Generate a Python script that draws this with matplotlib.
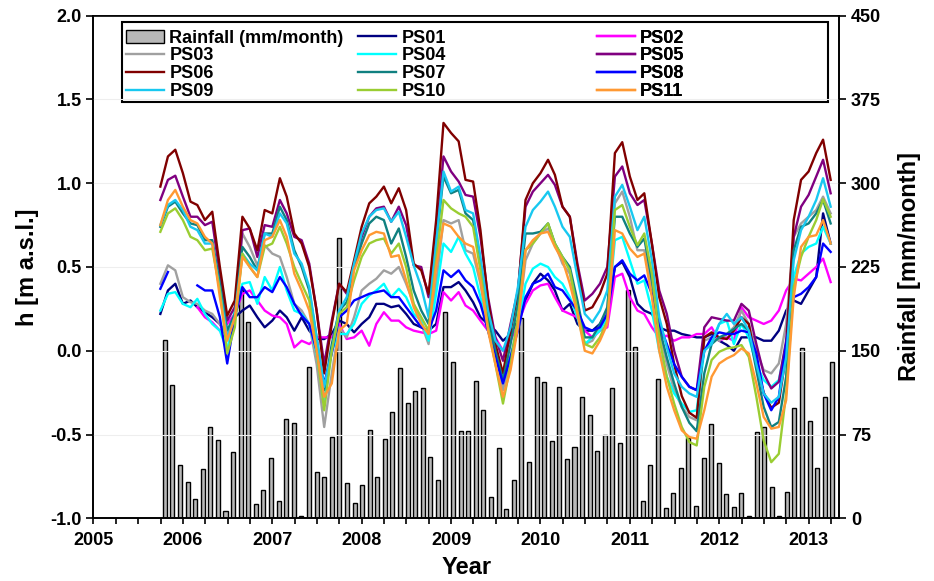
import numpy as np
import pandas as pd
import matplotlib
matplotlib.use("Agg")
import matplotlib.pyplot as plt
from matplotlib.ticker import MultipleLocator, FormatStrFormatter
from matplotlib.patches import Rectangle

plt.rcParams['font.family'] = ['Liberation Sans', 'DejaVu Sans']
plt.rcParams['font.weight'] = 'bold'
plt.rcParams['axes.labelweight'] = 'bold'

nan = np.nan

# monthly rainfall (mm/month), bars every 31 days starting mid-October 2005
rain_start = "2005-10-19"
rainfall = [160, 119, 47.7, 32.8, 17.6, 43.9, 82, 69.8, 6.8, 59, 204, 176, 12.8, 25, 53.7,
            15.8, 88.6, 85.6, 2, 135.7, 41.7, 37.3, 72.5, 251, 31.3, 14, 29.5, 78.8, 37.3,
            70.7, 94.9, 134.3, 103, 114, 116.4, 55.2, 34.3, 184.7, 139.7, 78.5, 78.5, 123,
            97, 18.8, 63.2, 8, 34.6, 179, 50.7, 126.2, 122.3, 69.5, 117.3, 53.4, 64.1, 108.6,
            92.5, 60.3, 74.3, 116.7, 67.7, 204.4, 153.6, 15.8, 47.7, 124.4, 9.5, 22.4, 44.8,
            72.2, 11.3, 53.7, 84.7, 49.8, 21.5, 10.4, 22.4, 2, 77.3, 81.7, 27.7, 1.8, 23.8,
            98.8, 152.2, 86.8, 44.8, 108.9, 139.7]

# water level series, sampled on the first of each month Oct 2005 - Apr 2013
level_start = "2005-10-01"
PS01 = [0.22, 0.36, 0.40, 0.28, 0.30, 0.26, 0.23, 0.20, 0.16, 0.08, 0.20, 0.24, 0.27, 0.20, 0.14, 0.18,
        0.24, 0.20, 0.12, 0.20, 0.12, 0.07, 0.07, 0.10, 0.18, 0.16, 0.11, 0.16, 0.20, 0.28, 0.28,
        0.26, 0.27, 0.22, 0.16, 0.14, 0.12, 0.16, 0.38, 0.38, 0.41, 0.36, 0.29, 0.20, 0.16, 0.12,
        0.06, 0.10, 0.18, 0.30, 0.40, 0.46, 0.42, 0.36, 0.24, 0.28, 0.16, 0.12, 0.12, 0.16, 0.24, 0.50,
        0.53, 0.44, 0.28, 0.24, 0.22, 0.14, 0.12, 0.12, 0.10, 0.09, 0.08, 0.08, 0.10, 0.06, 0.035,
        0.00, 0.08, 0.08, 0.08, 0.06, 0.06, 0.12, 0.24, 0.30, 0.28, 0.36, 0.44, 0.82, 0.64]
PS02 = [nan, nan, nan, nan, nan, 0.26, 0.20, 0.17, 0.12, 0.16, 0.22, 0.34, 0.36, 0.30, 0.24, 0.21,
        0.20, 0.16, 0.02, 0.06, 0.04, 0.08, 0.08, 0.08, 0.16, 0.07, 0.08, 0.12, 0.03, 0.16, 0.23,
        0.18, 0.18, 0.14, 0.12, 0.11, 0.10, 0.12, 0.35, 0.30, 0.35, 0.27, 0.24, 0.18, 0.12, 0.08,
        0.00, 0.06, 0.16, 0.28, 0.36, 0.39, 0.40, 0.32, 0.24, 0.22, 0.20, 0.12, 0.08, 0.12, 0.14, 0.44,
        0.46, 0.32, 0.24, 0.22, 0.14, 0.08, 0.09, 0.06, 0.08, 0.08, 0.10, 0.10, 0.14, 0.06, 0.08,
        0.06, 0.26, 0.20, 0.18, 0.16, 0.18, 0.24, 0.36, 0.43, 0.42, 0.46, 0.50, 0.55, 0.41]
PS03 = [0.40, 0.51, 0.48, 0.32, 0.29, 0.28, 0.24, 0.22, 0.16, 0.08, 0.20, 0.70, 0.62, 0.51, 0.63, 0.58,
        0.56, 0.44, 0.28, 0.24, 0.16, -0.08, -0.455, -0.135, 0.14, 0.08, 0.20, 0.36, 0.40, 0.43, 0.48,
        0.46, 0.50, 0.40, 0.28, 0.16, 0.04, 0.40, 0.78, 0.76, 0.78, 0.60, 0.58, 0.40, 0.14, 0.00,
        -0.235, -0.036, 0.16, 0.54, 0.64, 0.70, 0.73, 0.64, 0.52, 0.46, 0.24, 0.04, 0.06, 0.14, 0.24, 0.88,
        0.95, 0.80, 0.60, 0.60, 0.38, 0.12, -0.08, -0.235, -0.335, -0.395, -0.415, 0.06, 0.08, 0.06, 0.10,
        0.14, 0.24, 0.16, 0.00, -0.115, -0.135, -0.076, 0.16, 0.68, 0.76, 0.80, 0.84, 0.92, 0.82]
PS04 = [0.24, 0.34, 0.35, 0.28, 0.26, 0.31, 0.22, 0.16, 0.12, 0.00, 0.24, 0.40, 0.41, 0.28, 0.44, 0.36,
        0.50, 0.36, 0.24, 0.22, 0.16, -0.016, -0.295, 0.00, 0.10, 0.10, 0.16, 0.28, 0.33, 0.36, 0.40,
        0.32, 0.37, 0.32, 0.22, 0.18, 0.06, 0.34, 0.64, 0.59, 0.68, 0.58, 0.50, 0.32, 0.12, -0.016,
        -0.155, -0.036, 0.14, 0.40, 0.49, 0.52, 0.50, 0.44, 0.40, 0.32, 0.20, 0.04, 0.08, 0.12, 0.20, 0.66,
        0.68, 0.54, 0.40, 0.42, 0.24, 0.00, -0.155, -0.255, -0.315, -0.365, -0.355, 0.00, 0.06, 0.16, 0.18,
        0.04, 0.16, 0.08, -0.08, -0.175, -0.215, -0.175, 0.04, 0.44, 0.58, 0.62, 0.64, 0.74, 0.64]
PS05 = [0.90, 1.02, 1.045, 0.92, 0.80, 0.80, 0.75, 0.77, 0.46, 0.18, 0.26, 0.72, 0.73, 0.56, 0.75, 0.74,
        0.90, 0.82, 0.68, 0.66, 0.52, 0.24, -0.08, 0.18, 0.40, 0.34, 0.50, 0.68, 0.80, 0.85, 0.86,
        0.77, 0.86, 0.75, 0.51, 0.50, 0.32, 0.68, 1.16, 1.07, 1.01, 0.93, 0.92, 0.68, 0.32, 0.08,
        -0.06, 0.16, 0.36, 0.86, 0.95, 1.00, 1.05, 0.99, 0.86, 0.80, 0.52, 0.30, 0.34, 0.40, 0.50, 1.04,
        1.10, 0.94, 0.87, 0.90, 0.64, 0.36, 0.22, 0.00, -0.155, -0.215, -0.235, 0.14, 0.20, 0.19, 0.18,
        0.18, 0.28, 0.24, 0.04, -0.135, -0.225, -0.185, 0.06, 0.68, 0.86, 0.93, 1.04, 1.14, 0.94]
PS06 = [0.98, 1.16, 1.20, 1.06, 0.89, 0.87, 0.78, 0.83, 0.50, 0.21, 0.30, 0.80, 0.73, 0.60, 0.84, 0.82,
        1.03, 0.92, 0.70, 0.64, 0.50, 0.24, -0.135, 0.16, 0.40, 0.35, 0.54, 0.74, 0.88, 0.92, 0.98,
        0.88, 0.97, 0.84, 0.52, 0.48, 0.34, 0.78, 1.36, 1.30, 1.25, 1.02, 1.01, 0.72, 0.30, 0.04,
        -0.135, 0.12, 0.34, 0.90, 1.00, 1.06, 1.14, 1.05, 0.86, 0.80, 0.50, 0.24, 0.26, 0.34, 0.46, 1.18,
        1.245, 1.04, 0.90, 0.94, 0.64, 0.32, 0.16, -0.08, -0.27, -0.37, -0.40, 0.08, 0.11, 0.08, 0.07,
        0.12, 0.20, 0.16, -0.08, -0.25, -0.34, -0.31, -0.02, 0.78, 1.02, 1.07, 1.18, 1.26, 1.02]
PS07 = [0.74, 0.86, 0.89, 0.82, 0.76, 0.75, 0.66, 0.66, 0.40, 0.12, 0.22, 0.62, 0.56, 0.48, 0.70, 0.70,
        0.86, 0.78, 0.60, 0.50, 0.36, 0.08, -0.235, 0.04, 0.24, 0.29, 0.50, 0.64, 0.76, 0.80, 0.78,
        0.64, 0.73, 0.56, 0.36, 0.24, 0.16, 0.64, 1.04, 0.94, 0.96, 0.82, 0.78, 0.52, 0.20, 0.00,
        -0.175, 0.04, 0.28, 0.70, 0.70, 0.71, 0.76, 0.64, 0.56, 0.50, 0.30, 0.08, 0.08, 0.16, 0.26, 0.80,
        0.80, 0.70, 0.62, 0.67, 0.42, 0.14, -0.04, -0.195, -0.335, -0.43, -0.48, -0.135, 0.04, 0.08, 0.10,
        0.13, 0.16, 0.12, -0.115, -0.335, -0.455, -0.425, -0.155, 0.60, 0.74, 0.76, 0.82, 0.90, 0.76]
PS08 = [0.37, 0.47, nan, nan, nan, 0.39, 0.36, 0.36, 0.20, -0.076, 0.20, 0.38, 0.32, 0.32, 0.38, 0.35,
        0.44, 0.38, 0.28, 0.21, 0.16, 0.00, -0.195, -0.016, 0.20, 0.24, 0.30, 0.32, 0.34, 0.35, 0.36,
        0.32, 0.32, 0.26, 0.20, 0.14, 0.12, 0.24, 0.48, 0.44, 0.48, 0.42, 0.38, 0.28, 0.12, -0.036,
        -0.195, -0.036, 0.12, 0.32, 0.40, 0.42, 0.46, 0.38, 0.36, 0.30, 0.24, 0.14, 0.12, 0.14, 0.22, 0.50,
        0.54, 0.46, 0.42, 0.45, 0.34, 0.16, 0.04, -0.08, -0.155, -0.215, -0.235, 0.00, 0.08, 0.11, 0.10,
        0.10, 0.12, 0.11, -0.016, -0.255, -0.355, -0.275, 0.04, 0.32, 0.34, 0.38, 0.44, 0.64, 0.59]
PS09 = [0.75, 0.87, 0.90, 0.84, 0.74, 0.72, 0.64, 0.64, 0.36, 0.08, 0.20, 0.58, 0.52, 0.48, 0.70, 0.68,
        0.82, 0.76, 0.58, 0.52, 0.38, 0.08, -0.215, 0.00, 0.24, 0.32, 0.52, 0.70, 0.80, 0.84, 0.85,
        0.77, 0.83, 0.68, 0.51, 0.38, 0.20, 0.64, 1.07, 0.95, 0.98, 0.84, 0.82, 0.56, 0.24, 0.06,
        0.00, 0.14, 0.38, 0.74, 0.84, 0.89, 0.95, 0.86, 0.74, 0.68, 0.44, 0.22, 0.17, 0.24, 0.36, 0.92,
        0.99, 0.86, 0.72, 0.80, 0.54, 0.20, 0.02, -0.135, -0.215, -0.255, -0.275, 0.00, 0.04, 0.16, 0.22,
        0.16, 0.20, 0.12, -0.08, -0.255, -0.31, -0.275, -0.04, 0.54, 0.72, 0.80, 0.90, 1.03, 0.86]
PS10 = [0.71, 0.82, 0.85, 0.78, 0.68, 0.66, 0.60, 0.61, 0.36, -0.016, 0.14, 0.58, 0.50, 0.44, 0.62, 0.64,
        0.74, 0.64, 0.50, 0.40, 0.30, 0.00, -0.355, 0.00, 0.22, 0.26, 0.42, 0.56, 0.64, 0.66, 0.67,
        0.58, 0.64, 0.50, 0.28, 0.20, 0.12, 0.54, 0.90, 0.85, 0.82, 0.80, 0.74, 0.48, 0.14, -0.08,
        -0.315, -0.08, 0.20, 0.60, 0.64, 0.70, 0.76, 0.64, 0.56, 0.48, 0.24, 0.04, 0.02, 0.08, 0.18, 0.84,
        0.87, 0.74, 0.63, 0.70, 0.46, 0.08, -0.155, -0.315, -0.455, -0.545, -0.565, -0.215, -0.055, -0.006, 0.014,
        0.02, 0.034, -0.036, -0.275, -0.535, -0.665, -0.615, -0.255, 0.38, 0.56, 0.68, 0.78, 0.905, 0.80]
PS11 = [0.75, 0.90, 0.96, 0.86, 0.78, 0.76, 0.68, 0.64, 0.32, 0.06, 0.20, 0.56, 0.50, 0.44, 0.66, 0.68,
        0.78, 0.68, 0.46, 0.36, 0.24, 0.00, -0.275, -0.195, 0.12, 0.16, 0.48, 0.60, 0.69, 0.71, 0.70,
        0.56, 0.57, 0.42, 0.26, 0.16, 0.10, 0.50, 0.76, 0.74, 0.68, 0.64, 0.62, 0.42, 0.12, -0.08,
        -0.275, -0.115, 0.14, 0.60, 0.66, 0.70, 0.71, 0.62, 0.54, 0.40, 0.22, 0.00, -0.016, 0.06, 0.16, 0.72,
        0.70, 0.61, 0.56, 0.58, 0.32, 0.00, -0.215, -0.355, -0.475, -0.515, -0.525, -0.355, -0.155, -0.076, -0.046,
        -0.026, 0.014, -0.016, -0.195, -0.395, -0.465, -0.455, -0.295, 0.32, 0.62, 0.68, 0.69, 0.78, 0.64]

series = [("PS01", PS01, "#000080"), ("PS02", PS02, "#ff00ff"), ("PS03", PS03, "#a0a0a0"),
          ("PS04", PS04, "#00ffff"), ("PS05", PS05, "#800080"), ("PS06", PS06, "#800000"),
          ("PS07", PS07, "#108080"), ("PS08", PS08, "#0000ff"), ("PS09", PS09, "#18c8f0"),
          ("PS10", PS10, "#9acd32"), ("PS11", PS11, "#ff9933")]


def decimal_year(dates):
    days = np.where(dates.is_leap_year, 366.0, 365.0)
    return dates.year + (dates.dayofyear - 1) / days


rain_x = decimal_year(pd.date_range(rain_start, periods=len(rainfall), freq="31D"))
level_x = decimal_year(pd.date_range(level_start, periods=len(PS01), freq="MS"))

fig = plt.figure(figsize=(9.34, 5.81), dpi=100)
ax = fig.add_axes([0.1001, 0.1079, 0.7982, 0.8651])
ax2 = ax.twinx()
ax.set_zorder(ax2.get_zorder() + 1)
ax.patch.set_visible(False)

bars = ax2.bar(rain_x, rainfall, width=0.045, color="#b8b8b8", edgecolor="black", linewidth=1.0)
ax2.set_ylim(0, 450)
ax2.yaxis.set_major_locator(MultipleLocator(75))

lines = {}
for name, vals, col in series:
    lines[name], = ax.plot(level_x, vals, color=col, lw=1.7)

ax.set_xlim(2005, 2013.34)
ax.set_ylim(-1.0, 2.0)
ax.yaxis.set_major_locator(MultipleLocator(0.5))
ax.yaxis.set_major_formatter(FormatStrFormatter("%.1f"))
ax.xaxis.set_major_locator(MultipleLocator(1))
ax.xaxis.set_minor_locator(MultipleLocator(0.25))
ax.xaxis.set_major_formatter(FormatStrFormatter("%d"))
ax.grid(axis="y", color="#eeeeee", lw=0.8)

ax.tick_params(axis="y", direction="out", length=5, width=1.2, labelsize=13)
ax.tick_params(axis="x", which="both", direction="out", length=4, width=1.2, labelsize=13,
               top=False, pad=6)
ax2.tick_params(axis="y", direction="out", length=5, width=1.2, labelsize=13)
for a in (ax, ax2):
    for s in a.spines.values():
        s.set_linewidth(1.2)

ax.set_xlabel("Year", fontsize=17, labelpad=5)
ax.set_ylabel("h [m a.s.l.]", fontsize=17, labelpad=8)
ax2.set_ylabel("Rainfall [mm/month]", fontsize=17, labelpad=12)

# legend laid out row by row in three columns
columns = [
    [(bars, "Rainfall (mm/month)"), (lines["PS03"], "PS03"), (lines["PS06"], "PS06"), (lines["PS09"], "PS09")],
    [(lines["PS01"], "PS01"), (lines["PS04"], "PS04"), (lines["PS07"], "PS07"), (lines["PS10"], "PS10")],
    [(lines["PS02"], "PS02"), (lines["PS05"], "PS05"), (lines["PS08"], "PS08"), (lines["PS11"], "PS11")],
]
col_x = [0.0436, 0.355, 0.675]
for cx, entries in zip(col_x, columns):
    h, l = zip(*entries)
    leg = ax.legend(h, l, loc="upper left", bbox_to_anchor=(cx, 0.972), frameon=False,
                    borderpad=0, borderaxespad=0, handlelength=2.1, handletextpad=0.3,
                    labelspacing=0.04, prop={"size": 13, "weight": "bold"})
    ax.add_artist(leg)
ax.add_patch(Rectangle((0.0378, 0.8283), 0.9475, 0.1597, transform=ax.transAxes,
                       fill=False, edgecolor="black", lw=1.5, clip_on=False))

fig.savefig("out.png", dpi=100)
